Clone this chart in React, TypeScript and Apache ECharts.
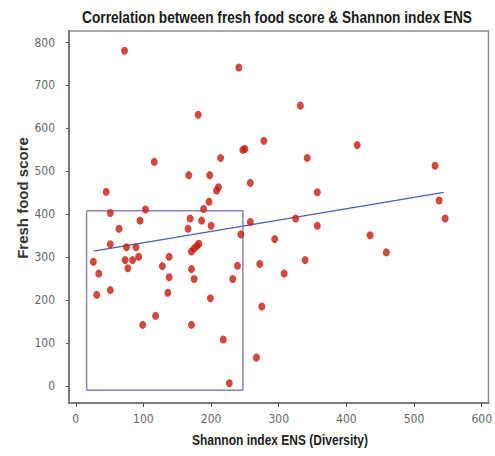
import React, { useEffect, useRef } from "react";
import * as echarts from "echarts";

// Shannon index ENS (Diversity) values for each observation
const shannonIndex = [
  72, 241, 181, 278, 247, 250, 116, 214, 167, 198, 258, 211, 208, 45, 197, 51, 103, 189,
  95, 169, 186, 258, 64, 166, 200, 244, 51, 75, 89, 182, 179, 175, 171, 26, 73, 84, 93, 77,
  138, 128, 34, 171, 175, 138, 239, 232, 272, 294, 31, 51, 136, 199, 275, 118, 99, 171, 218,
  267, 227, 332, 416, 342, 531, 357, 537, 325, 546, 357, 435, 459, 308, 339,
];
// Fresh food score values for each observation
const freshFoodScore = [
  781, 742, 632, 571, 550, 552, 522, 531, 491, 491, 473, 463, 455, 452, 429, 403, 411, 412,
  385, 390, 385, 382, 366, 366, 373, 353, 330, 323, 323, 331, 326, 320, 313, 289, 293, 293,
  301, 274, 301, 279, 262, 272, 249, 253, 280, 249, 284, 342, 212, 223, 217, 204, 185, 163,
  142, 142, 108, 66, 6, 653, 561, 531, 513, 451, 432, 390, 390, 373, 351, 311, 262, 293,
];
// Fitted regression line end points
const regressionX = [26.5, 544];
const regressionY = [314, 451];
// Highlight box corners (Shannon index / fresh food score)
const boxX = [16, 16, 247, 247, 16];
const boxY = [-10, 408, 408, -10, -10];

const xTicks = [0, 100, 200, 300, 400, 500, 600];
const yTicks = [0, 100, 200, 300, 400, 500, 600, 700, 800];

const narrow = "'DejaVu Sans Condensed', 'Liberation Sans', sans-serif";
const sans = "'Liberation Sans', Arial, sans-serif";

export default function App() {
  const ref = useRef<HTMLDivElement>(null);
  useEffect(() => {
    document.body.style.margin = "0";
    const chart = echarts.init(ref.current!, null, { renderer: "svg" });
    const points = shannonIndex.map((x, i) => [x, freshFoodScore[i]]);
    const reg = regressionX.map((x, i) => [x, regressionY[i]]);
    const box = boxX.map((x, i) => [x, boxY[i]]);
    chart.setOption({
      animation: false,
      backgroundColor: "#ffffff",
      graphic: [
        {
          type: "text",
          x: 277,
          y: 17,
          scaleX: 0.805,
          style: {
            text: "Correlation between fresh food score & Shannon index ENS",
            font: `bold 17px ${sans}`,
            fill: "#1a1a1a",
            align: "center",
            verticalAlign: "middle",
          },
        },
        {
          type: "text",
          x: 22,
          y: 198,
          rotation: Math.PI / 2,
          style: {
            text: "Fresh food score",
            font: `bold 15px ${sans}`,
            fill: "#333",
            align: "center",
            verticalAlign: "middle",
          },
        },
        {
          type: "text",
          x: 280,
          y: 440,
          scaleX: 0.8,
          style: {
            text: "Shannon index ENS (Diversity)",
            font: `bold 15px ${sans}`,
            fill: "#222",
            align: "center",
            verticalAlign: "middle",
          },
        },
      ],
      grid: {
        left: 69,
        right: 5,
        top: 31,
        bottom: 53,
        show: true,
        borderColor: "#8c8c8c",
        borderWidth: 1.5,
        backgroundColor: "#ffffff",
      },
      xAxis: {
        type: "value",
        min: -10,
        max: 610,
        axisLine: { show: true, onZero: false, lineStyle: { color: "#7a7a7a", width: 2 } },
        axisTick: { show: true, customValues: xTicks, length: 4, lineStyle: { color: "#555" } },
        axisLabel: { customValues: xTicks, margin: 10, fontFamily: narrow, fontSize: 12, color: "#666" },
        splitLine: { show: false },
      },
      yAxis: {
        type: "value",
        min: -40,
        max: 827,
        axisLine: { show: true, onZero: false, lineStyle: { color: "#7a7a7a", width: 2 } },
        axisTick: { show: true, customValues: yTicks, length: 3, lineStyle: { color: "#555" } },
        axisLabel: { customValues: yTicks, margin: 14, fontFamily: narrow, fontSize: 12, color: "#666" },
        splitLine: { show: false },
      },
      series: [
        {
          type: "line",
          data: box,
          symbol: "none",
          lineStyle: { color: "#8682c4", width: 1.5 },
          silent: true,
          z: 1,
        },
        {
          type: "line",
          data: reg,
          symbol: "none",
          lineStyle: { color: "#4b5cc4", width: 1.3 },
          silent: true,
          z: 2,
        },
        {
          type: "scatter",
          data: points,
          symbol: "circle",
          symbolSize: [7, 8],
          itemStyle: { color: "#c81a0c" },
          z: 3,
        },
      ],
    });
    return () => chart.dispose();
  }, []);
  return <div ref={ref} style={{ position: "fixed", left: 0, top: 0, width: 495, height: 456 }} />;
}
